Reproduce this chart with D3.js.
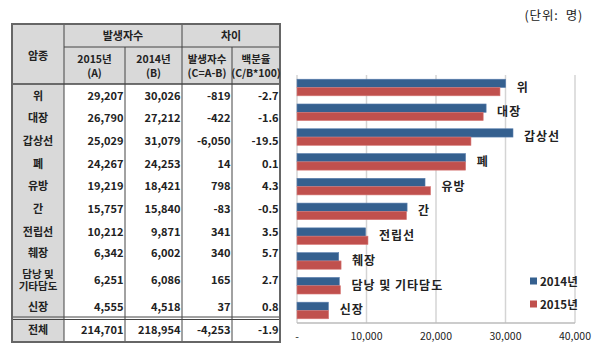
<!DOCTYPE html>
<html>
<head>
<meta charset="utf-8">
<script src="https://cdnjs.cloudflare.com/ajax/libs/d3/7.8.5/d3.min.js"></script>
<style>
  body { margin: 0; background: #fff; }
  svg text { font-family: "Noto Sans CJK KR", "Malgun Gothic", sans-serif; font-weight: bold; fill: #222; }
</style>
</head>
<body>
<div id="chart-area"></div>
<script>
// data
const cancers = ["위", "대장", "갑상선", "폐", "유방", "간", "전립선", "췌장", "담낭 및 기타담도", "신장"];
const tableNames = ["위", "대장", "갑상선", "폐", "유방", "간", "전립선", "췌장", ["담낭 및", "기타담도"], "신장"];
const cases2015 = [29207, 26790, 25029, 24267, 19219, 15757, 10212, 6342, 6251, 4555];
const cases2014 = [30026, 27212, 31079, 24253, 18421, 15840, 9871, 6002, 6086, 4518];
const diffCases = [-819, -422, -6050, 14, 798, -83, 341, 340, 165, 37];
const diffPct = [-2.7, -1.6, -19.5, 0.1, 4.3, -0.5, 3.5, 5.7, 2.7, 0.8];
const total = {name: "전체", a: 214701, b: 218954, c: -4253, p: -1.9};
const xTicks = [0, 10000, 20000, 30000, 40000];
const seriesNames = ["2014년", "2015년"];
const colors = ["#35608f", "#c0504d"];

const W = 610, H = 354;
const svg = d3.select("#chart-area").append("svg")
    .attr("width", W).attr("height", H);

// plain hyphen for negatives, like the source table
const locale = d3.formatLocale({decimal: ".", thousands: ",", grouping: [3], currency: ["", ""], minus: "-"});
const fmt = locale.format(",");
const fmt1 = locale.format(".1f");

// unit label
svg.append("text")
    .attr("x", 583).attr("y", 20)
    .attr("text-anchor", "end")
    .style("font-weight", "normal")
    .style("font-size", "12.5px")
    .style("white-space", "pre")
    .style("letter-spacing", "0.8px")
    .text("(단위:  명)");

// ---------- table ----------
const tbl = svg.append("g");
const colX = [12, 64, 125, 182, 232, 280];
const tTop = 24, h1 = 47, h2 = 84, bodyEnd = 318, tBottom = 342;

// gray fills
tbl.append("rect").attr("x", colX[0]).attr("y", tTop)
    .attr("width", colX[5] - colX[0]).attr("height", h2 - tTop).attr("fill", "#d9d9d9");
tbl.append("rect").attr("x", colX[0]).attr("y", h2)
    .attr("width", colX[1] - colX[0]).attr("height", tBottom - h2).attr("fill", "#d9d9d9");

const line = (x1, y1, x2, y2, w, c) => tbl.append("line")
    .attr("x1", x1).attr("y1", y1).attr("x2", x2).attr("y2", y2)
    .attr("stroke", c || "#444").attr("stroke-width", w || 1);

// inner lines
line(colX[1], tTop, colX[1], tBottom);
line(colX[2], h1, colX[2], tBottom);
line(colX[3], tTop, colX[3], tBottom);
line(colX[4], h1, colX[4], tBottom);
line(colX[1], h1, colX[5], h1);
line(colX[0], h2, colX[5], h2, 1.5);
line(colX[0], bodyEnd - 1, colX[5], bodyEnd - 1);
line(colX[0], bodyEnd + 1.5, colX[5], bodyEnd + 1.5);
// outer border
tbl.append("rect").attr("x", colX[0]).attr("y", tTop)
    .attr("width", colX[5] - colX[0]).attr("height", tBottom - tTop)
    .attr("fill", "none").attr("stroke", "#666").attr("stroke-width", 2);

const txt = (x, y, s, anchor, size) => tbl.append("text")
    .attr("x", x).attr("y", y).attr("text-anchor", anchor || "middle")
    .style("font-size", (size || 11) + "px").text(s);

txt((colX[0] + colX[1]) / 2, 60, "암종");
txt((colX[1] + colX[3]) / 2, 40, "발생자수");
txt((colX[3] + colX[5]) / 2, 40, "차이");
const sub = [["2015년", "(A)"], ["2014년", "(B)"], ["발생자수", "(C=A-B)"], ["백분율", "(C/B*100)"]];
sub.forEach((p, k) => {
    const cx = (colX[k + 1] + colX[k + 2]) / 2;
    txt(cx, 63, p[0], "middle", 10.5);
    txt(cx, 77, p[1], "middle", 10.5);
});

const rowY = [96, 118, 141, 164, 186, 209, 232, 253, 280, 307];
const rows = tbl.selectAll(".row").data(cancers).enter().append("g").attr("class", "row");
rows.each(function (d, i) {
    const g = d3.select(this);
    const y = rowY[i] + 4;
    const nm = tableNames[i];
    const cx = (colX[0] + colX[1]) / 2;
    if (Array.isArray(nm)) {
        const t = g.append("text").attr("x", cx).attr("y", y - 6.5)
            .attr("text-anchor", "middle").style("font-size", "10.5px");
        nm.forEach((s, k) => t.append("tspan").attr("x", cx).attr("dy", k ? 12.5 : 0).text(s));
    } else {
        g.append("text").attr("x", cx).attr("y", y)
            .attr("text-anchor", "middle").style("font-size", "11px").text(nm);
    }
    const vals = [fmt(cases2015[i]), fmt(cases2014[i]), fmt(diffCases[i]), fmt1(diffPct[i])];
    vals.forEach((v, k) => g.append("text").attr("x", colX[k + 2] - 1.5).attr("y", y)
        .attr("text-anchor", "end").style("font-size", "11px").text(v));
});
txt((colX[0] + colX[1]) / 2, 334, total.name);
[fmt(total.a), fmt(total.b), fmt(total.c), fmt1(total.p)].forEach((v, k) =>
    txt(colX[k + 2] - 1.5, 334, v, "end"));

// ---------- bar chart ----------
const margin = {left: 297, top: 75, right: 35, bottom: 31};
const cw = W - margin.left - margin.right, ch = H - margin.top - margin.bottom;
const chart = svg.append("g").attr("transform", `translate(${margin.left},${margin.top})`);

const x = d3.scaleLinear().domain([0, 40000]).range([0, cw]);
const y = d3.scaleBand().domain(cancers).range([0, ch]).paddingInner(0.33).paddingOuter(0.17);
const ySub = d3.scaleBand().domain([0, 1]).range([0, y.bandwidth()]);

chart.selectAll(".grid").data(xTicks).enter().append("line")
    .attr("class", "grid")
    .attr("x1", d => x(d)).attr("x2", d => x(d))
    .attr("y1", 0).attr("y2", ch)
    .attr("stroke", "#d4d4d4").attr("stroke-width", 1.5);

chart.append("line").attr("x1", 0).attr("x2", cw).attr("y1", ch).attr("y2", ch)
    .attr("stroke", "#bbb").attr("stroke-width", 1.5);

const series = [cases2014, cases2015];
series.forEach((vals, s) => {
    chart.selectAll(".bar" + s).data(cancers).enter().append("rect")
        .attr("class", "bar" + s)
        .attr("x", 0)
        .attr("y", d => y(d) + ySub(s))
        .attr("width", (d, i) => x(vals[i]))
        .attr("height", ySub.bandwidth())
        .attr("fill", colors[s])
        .attr("stroke", s === 0 ? "#5a7fae" : "#d77a78")
        .attr("stroke-width", 0.6);
});

chart.selectAll(".lbl").data(cancers).enter().append("text")
    .attr("class", "lbl")
    .attr("x", (d, i) => x(Math.max(cases2014[i], cases2015[i])) + 11)
    .attr("y", d => y(d) + y.bandwidth() / 2 + 4)
    .style("font-size", "12px")
    .style("letter-spacing", "1px")
    .text(d => d);

chart.selectAll(".tick-lbl").data(xTicks).enter().append("text")
    .attr("class", "tick-lbl")
    .attr("x", d => x(d))
    .attr("y", ch + 17)
    .attr("text-anchor", "middle")
    .style("font-size", "10.5px")
    .style("font-weight", "normal")
    .text(d => d === 0 ? "-" : fmt(d));

// legend
const leg = chart.selectAll(".leg").data(seriesNames).enter().append("g")
    .attr("class", "leg")
    .attr("transform", (d, i) => `translate(${530 - margin.left},${206 + i * 23})`);
leg.append("rect").attr("width", 7).attr("height", 7).attr("y", -3.5)
    .attr("fill", (d, i) => colors[i]);
leg.append("text").attr("x", 10).attr("y", 4.5).style("font-size", "11.5px").text(d => d);
</script>
</body>
</html>
